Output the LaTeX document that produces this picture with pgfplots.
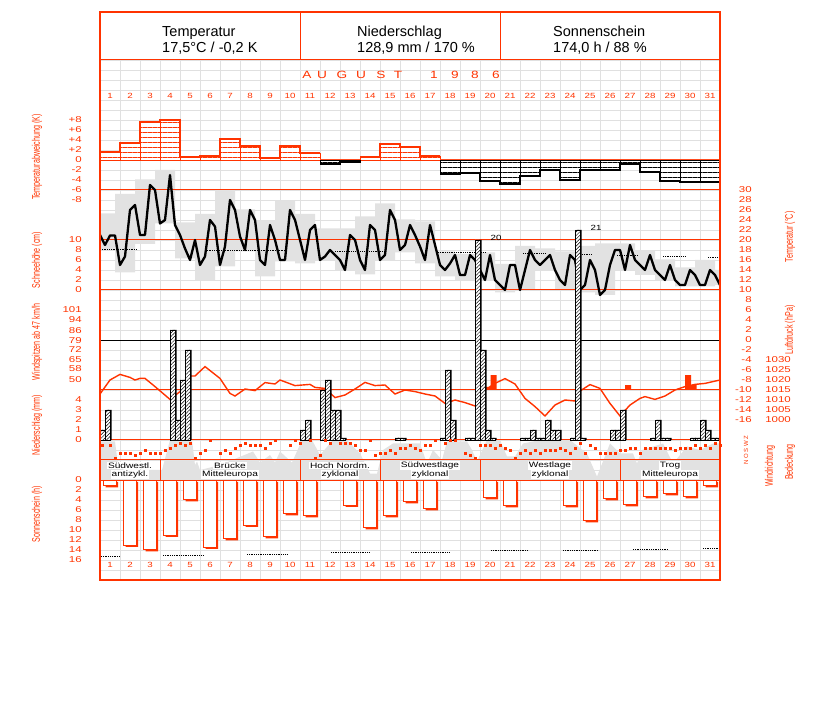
\documentclass[border=0pt]{standalone}
\usepackage{pgfplots}
\usepackage{pgfplotstable}
\pgfplotsset{compat=1.18}
\usetikzlibrary{patterns,patterns.meta}
\usepackage{fontspec}
\setmainfont{Liberation Sans}
\definecolor{rd}{RGB}{255,51,0}
\definecolor{gridc}{RGB}{224,224,224}
\definecolor{cloud}{RGB}{226,226,226}
\newcommand\tf{\fontsize{8.5}{8.5}\selectfont}
\newcommand\df{\fontsize{7.5}{7.5}\selectfont}
\pgfplotsset{
  panel/.style={scale only axis, width=620pt, xmin=0, xmax=31, anchor=south west,
    axis line style={draw=none}, tick style={draw=none}, xtick=\empty, ytick=\empty,
    /pgf/number format/assume math mode=true,
    /pgf/number format/set thousands separator={},
    yticklabel style={font=\tf, text=rd, xscale=1.35}},
  leftlab/.style={yticklabel style={anchor=east, xshift=-10pt}},
}
% daily Tmin-Tmax boxes (box centre in days since 1 Aug 0h)
\pgfplotstableread{
t hi lo
0.25 25.3 18.0
1.25 29.2 13.5
2.25 32.1 19.2
3.25 34.0 23.3
4.25 23.5 16.3
5.25 25.2 12.0
6.25 30.1 14.7
7.25 26.1 17.7
8.25 23.9 12.7
9.25 27.9 15.7
10.25 25.2 15.3
11.25 22.3 15.9
12.25 22.3 14.0
13.25 24.7 13.1
14.25 27.3 16.0
15.25 24.1 17.5
16.25 23.7 15.3
17.25 17.7 12.7
18.25 17.2 12.0
19.25 17.5 12.0
20.25 15.2 9.5
21.25 18.8 10.0
22.25 18.3 14.0
23.25 17.7 10.0
24.25 18.8 9.5
25.25 19.3 9.0
26.25 19.3 14.0
27.25 17.9 13.0
28.25 16.1 12.0
29.25 14.5 10.7
30.25 16.0 10.7
31.25 14.0 11.0
}\boxes
\begin{document}
\begin{tikzpicture}[x=1pt,y=1pt]
\useasboundingbox (0,0) rectangle (827,702);
% ---------- grid
\begin{axis}[panel, at={(100pt,122pt)}, height=520pt, ymin=0, ymax=52,
  xtick={0,...,31}, ytick={0,...,52}, xticklabels={}, yticklabels={},
  grid=major, grid style={gridc, line width=0.9pt}]
\addplot[draw=none] coordinates {(0,0)};
\end{axis}
% ---------- cloud cover (octas)
\begin{axis}[panel, at={(100pt,222pt)}, height=40pt, ymin=0, ymax=8]
\addplot[fill=cloud, draw=none] coordinates {
(0,7.7)(0.75,7.7)(0.9,3)(1.2,2)(3.1,2)(3.5,8)(4.6,8)(4.75,3)(4.85,3.7)(5,2)(6,3)(7.65,5.7)
(8,3.5)(8.5,5)(8.75,3.5)(9,5.7)(9.6,3.5)(10.1,8)(10.6,8)(11,5)(11.65,8)(12.35,8)(13,5.3)
(13.5,1.3)(13.85,1.3)(14.15,6)(14.65,7.3)(16,7.3)(16.35,3.3)(16.65,6)(17.1,4)(17.35,7.7)
(18.35,7.7)(18.6,6)(18.85,3.7)(19.35,8)(20,8)(20.35,4.7)(20.75,4.7)(21.15,7.3)(22,8)(23.5,8)
(24.35,5.3)(24.85,0.7)(25.5,7.3)(26,5.3)(26.65,5.3)(26.85,3.3)(27.1,6)(28.15,7.3)(28.65,3.3)
(29.35,6.7)(30,6)(30.65,7.3)(31,7.3)} \closedcycle;
\end{axis}
% ---------- temperature Tmin-Tmax boxes
\begin{axis}[panel, at={(100pt,282pt)}, height=260pt, ymin=-16, ymax=36, ybar stacked, bar width=1]
\addplot[fill=none, draw=none] table[x=t,y=lo] {\boxes};
\addplot[fill=cloud, draw=none] table[x=t,y expr=\thisrow{hi}-\thisrow{lo}] {\boxes};
\end{axis}
% ---------- separating lines
\foreach \py in {60,160,190,240,290,390,440,460,480}
  \draw[rd, line width=1pt] (100,702-\py) -- (720,702-\py);
\draw[black, line width=0.8pt] (100,362) -- (720,362);
% ---------- temperature anomaly
\begin{axis}[panel, leftlab, at={(100pt,502pt)}, height=80pt, ymin=-8, ymax=8,
  ytick={-8,-6,-4,-2,0,2,4,6,8}, yticklabels={-8,-6,-4,-2,0,+2,+4,+6,+8}]
\addplot[ybar, bar width=1, fill=white, draw=rd, line width=0.5pt,
  postaction={pattern={Lines[angle=0,distance=5pt,line width=0.6pt]}, pattern color=rd}]
  coordinates {(0.5,1.5)(1.5,3.3)(2.5,7.5)(3.5,7.9)(4.5,0.5)(5.5,0.7)(6.5,4.2)(7.5,2.7)
  (8.5,0.3)(9.5,2.7)(10.5,1.3)(13.5,0.5)(14.5,3.1)(15.5,2.5)(16.5,0.8)};
\addplot[ybar, bar width=1, fill=white, draw=black, line width=0.5pt,
  postaction={pattern={Lines[angle=0,distance=5pt,line width=0.6pt]}, pattern color=black}]
  coordinates {(11.5,-0.9)(12.5,-0.5)(17.5,-2.8)(18.5,-2.7)(19.5,-4.2)(20.5,-4.9)(21.5,-3.2)
  (22.5,-2.1)(23.5,-4.0)(24.5,-2.1)(25.5,-2.1)(26.5,-0.9)(27.5,-2.5)(28.5,-4.3)(29.5,-4.5)(30.5,-4.4)};
\addplot[const plot mark mid, rd, line width=2pt] coordinates {(0,1.5)(0.5,1.5)(1.5,3.3)(2.5,7.5)
  (3.5,7.9)(4.5,0.5)(5.5,0.7)(6.5,4.2)(7.5,2.7)(8.5,0.3)(9.5,2.7)(10.5,1.3)(11,1.3)};
\addplot[const plot mark mid, black, line width=2pt] coordinates {(11,-0.9)(11.5,-0.9)(12.5,-0.5)(13,-0.5)};
\addplot[const plot mark mid, rd, line width=2pt] coordinates {(13,0.5)(13.5,0.5)(14.5,3.1)(15.5,2.5)(16.5,0.8)(17,0.8)};
\addplot[const plot mark mid, black, line width=2pt] coordinates {(17,-2.8)(17.5,-2.8)(18.5,-2.7)
  (19.5,-4.2)(20.5,-4.9)(21.5,-3.2)(22.5,-2.1)(23.5,-4.0)(24.5,-2.1)(25.5,-2.1)(26.5,-0.9)
  (27.5,-2.5)(28.5,-4.3)(29.5,-4.5)(30.5,-4.4)(31,-4.4)};
\end{axis}
% ---------- snow depth scale
\begin{axis}[panel, leftlab, at={(100pt,412pt)}, height=50pt, ymin=0, ymax=10, ytick={0,2,...,10}]
\addplot[draw=none] coordinates {(0,0)};
\end{axis}
% ---------- temperature curve
\begin{axis}[panel, at={(100pt,282pt)}, height=260pt, ymin=-16, ymax=36,
  ytick={-16,-14,...,30}, ytick pos=right, yticklabel pos=right,
  yticklabel style={anchor=east, xshift=27pt}]
\addplot[black, densely dotted, line width=0.8pt, unbounded coords=jump] coordinates {
(0,18.1)(1.85,18.1)(2,nan)(5.25,17.9)(9.25,17.9)(9.5,nan)(11.75,17.7)(14.25,17.7)(14.5,nan)
(16.9,17.6)(19.25,17.6)(19.5,nan)(21.15,17.4)(22.3,17.4)(22.5,nan)(24.1,17.2)(24.6,17.2)(24.8,nan)
(25.85,16.9)(26.85,16.9)(27,nan)(28.15,16.7)(29.3,16.7)(29.5,nan)(30.4,16.5)(31,16.5)};
\addplot[black, line width=2.3pt, line join=round] coordinates {
(0,21.0)(0.25,19.0)(0.5,20.9)(0.75,20.9)(1,15.0)(1.25,16.7)(1.5,26.0)(1.75,27.0)
(2,21.0)(2.25,21.0)(2.5,31.0)(2.75,30.0)(3,23.3)(3.25,24.0)(3.5,33.0)(3.75,23.0)
(4,21.0)(4.25,18.3)(4.5,16.0)(4.75,20.0)(5,15.0)(5.25,16.7)(5.5,24.0)(5.75,22.7)
(6,15.0)(6.25,18.7)(6.5,28.0)(6.75,26.0)(7,20.7)(7.25,18.0)(7.5,26.0)(7.75,24.0)
(8,16.0)(8.25,15.0)(8.5,23.0)(8.75,20.0)(9,16.0)(9.25,16.0)(9.5,26.0)(9.75,24.0)
(10,20.0)(10.25,16.0)(10.5,22.0)(10.75,23.0)(11,16.0)(11.25,16.7)(11.5,18.0)(11.75,17.0)
(12,16.0)(12.25,14.0)(12.5,21.0)(12.75,20.0)(13,16.0)(13.25,14.0)(13.5,23.0)(13.75,22.0)
(14,16.0)(14.25,17.0)(14.5,26.0)(14.75,24.0)(15,18.0)(15.25,19.0)(15.5,23.0)(15.75,21.0)
(16,18.7)(16.25,16.0)(16.5,23.0)(16.75,19.0)(17,15.0)(17.25,14.0)(17.5,15.3)(17.75,17.0)
(18,13.0)(18.25,13.0)(18.5,17.0)(18.75,16.0)(19,14.0)(19.25,12.0)(19.5,17.0)(19.75,12.0)
(20,11.0)(20.25,10.0)(20.5,15.0)(20.75,15.0)(21,10.0)(21.25,14.0)(21.5,18.0)(21.75,16.0)
(22,15.0)(22.25,16.0)(22.5,17.0)(22.75,14.0)(23,12.0)(23.25,11.0)(23.5,17.0)(23.75,16.0)
(24,10.0)(24.25,11.0)(24.5,16.0)(24.75,14.0)(25,9.0)(25.25,10.0)(25.5,15.0)(25.75,18.0)
(26,18.0)(26.25,14.0)(26.5,19.0)(26.75,16.0)(27,15.0)(27.25,14.0)(27.5,17.0)(27.75,14.0)
(28,13.0)(28.25,12.0)(28.5,15.0)(28.75,12.0)(29,11.0)(29.25,11.0)(29.5,14.0)(29.75,13.0)
(30,11.0)(30.25,11.0)(30.5,14.0)(30.75,13.0)(31,11.0)};
\end{axis}
% ---------- air pressure
\begin{axis}[panel, at={(100pt,282pt)}, height=60pt, ymin=1000, ymax=1030,
  ytick={1000,1005,...,1030}, ytick pos=right, yticklabel pos=right,
  yticklabel style={anchor=east, xshift=56pt}, clip=false]
\addplot[rd, line width=1.4pt] coordinates {
(0,1013)(0.5,1020)(1,1022.8)(1.5,1021.3)(1.75,1020)(2,1020.8)(2.25,1020.8)(2.75,1016.7)
(3.5,1010.3)(4,1014.2)(4.5,1022)(4.75,1022)(5.25,1026.7)(6,1020.8)(6.5,1013.3)(6.75,1012)
(7.25,1015.5)(7.75,1014.7)(8.25,1018.7)(8.75,1018)(9,1020)(9.75,1017.2)(10.5,1017.8)
(10.75,1016.3)(11.25,1015.8)(11.75,1011.2)(12.25,1012.5)(12.75,1015.5)(13.25,1018.8)
(13.75,1017.2)(14.25,1017.5)(14.75,1013)(15.25,1015)(15.75,1014.2)(16.25,1013)(16.75,1012)
(17.25,1008.3)(17.75,1010)(18.25,1008.7)(18.75,1007)(19.25,1015)(19.75,1018.3)(20.25,1020.7)
(20.75,1018)(21.25,1010.8)(21.75,1006.7)(22.25,1002)(22.75,1007.5)(23.25,1010)(23.75,1009.5)
(24,1014.5)(24.5,1017.7)(25,1015.8)(25.5,1008.3)(26,1002)(26.5,1007.5)(27,1010.8)
(27.25,1011.7)(27.75,1010.3)(28.25,1012)(28.75,1015)(29.25,1016.7)(29.75,1017.8)(30.25,1018.3)(31,1020)};
\end{axis}
% ---------- wind gusts
\begin{axis}[panel, leftlab, at={(100pt,312pt)}, height=80pt, ymin=42.7, ymax=101,
  ytick={50,58,65,72,79,86,94,101}]
\addplot[ybar, bar width=0.3, fill=rd, draw=none] coordinates {
(19.375,45)(19.675,53.6)(26.4,46.3)(29.4,53.6)(29.675,46.3)};
\end{axis}
% ---------- precipitation
\begin{axis}[panel, leftlab, at={(100pt,262pt)}, height=220pt, ymin=0, ymax=22, ytick={0,1,2,3,4}]
\addplot[ybar, bar width=0.25, bar shift=1.6pt, fill=black, draw=none] coordinates {
(0.125,1)(0.375,3)(3.625,11)(3.875,2)(4.125,6)(4.375,9)(10.125,1)(10.375,2)(11.125,5)(11.375,6)
(11.625,3)(11.875,3)(12.125,0.2)(14.875,0.2)(15.125,0.2)(17.125,0.2)(17.375,7)(17.625,2)
(18.375,0.2)(18.625,0.2)(18.875,20)(19.125,9)(19.375,1)(19.625,0.2)(21.125,0.2)(21.375,0.2)
(21.625,1)(21.875,0.2)(22.125,0.2)(22.375,2)(22.625,1)(22.875,1)(23.625,0.2)(23.875,21)
(24.125,0.2)(25.625,1)(25.875,1)(26.125,3)(27.625,0.2)(27.875,2)(28.125,0.2)(28.375,0.2)
(29.625,0.2)(29.875,0.2)(30.125,2)(30.375,1)(30.625,0.2)(30.875,0.2)};
\addplot[ybar, bar width=0.25, fill=white, draw=black, line width=0.4pt,
  postaction={pattern={Lines[angle=45,distance=2.5pt,line width=0.5pt]}, pattern color=black}] coordinates {
(0.125,1)(0.375,3)(3.625,11)(3.875,2)(4.125,6)(4.375,9)(10.125,1)(10.375,2)(11.125,5)(11.375,6)
(11.625,3)(11.875,3)(12.125,0.2)(14.875,0.2)(15.125,0.2)(17.125,0.2)(17.375,7)(17.625,2)
(18.375,0.2)(18.625,0.2)(18.875,20)(19.125,9)(19.375,1)(19.625,0.2)(21.125,0.2)(21.375,0.2)
(21.625,1)(21.875,0.2)(22.125,0.2)(22.375,2)(22.625,1)(22.875,1)(23.625,0.2)(23.875,21)
(24.125,0.2)(25.625,1)(25.875,1)(26.125,3)(27.625,0.2)(27.875,2)(28.125,0.2)(28.375,0.2)
(29.625,0.2)(29.875,0.2)(30.125,2)(30.375,1)(30.625,0.2)(30.875,0.2)};
\node[font=\df, anchor=west, xscale=1.3] at (axis cs:19.3,20.2) {20};
\node[font=\df, anchor=west, xscale=1.3] at (axis cs:24.3,21.2) {21};
\end{axis}
% ---------- wind direction (degrees)
\begin{axis}[panel, at={(100pt,242pt)}, height=20pt, ymin=-36, ymax=324, clip=false]
\addplot[only marks, mark=square*, mark size=1pt, rd] coordinates {
(0.1,225)(0.5,225)(0.74,0)(1,90)(1.26,90)(1.5,90)(1.76,45)(2,90)(2.26,135)(2.5,90)(2.76,90)
(3,90)(3.26,135)(3.5,180)(3.76,225)(4,270)(4.26,225)(4.5,270)(4.76,0)(5,90)(5.26,135)(5.5,315)
(6,90)(6.26,135)(6.5,90)(6.76,180)(7,225)(7.26,270)(7.5,225)(7.76,225)(8,225)(8.26,180)
(8.5,270)(8.76,315)(9.5,225)(9.76,315)(10,270)(10.5,315)(10.76,0)(11,45)(11.26,315)(11.5,270)
(12,270)(12.26,270)(12.5,270)(12.76,225)(13,135)(13.26,135)(13.5,315)(13.76,45)(14,90)
(14.26,90)(14.5,135)(14.76,90)(15,180)(15.26,180)(15.5,225)(15.76,180)(16,135)(16.26,225)
(16.5,225)(16.76,315)(17.26,270)(17.5,315)(17.76,315)(18.26,90)(18.5,45)(18.76,0)(19,225)
(19.26,225)(19.5,225)(19.76,180)(20,225)(20.26,180)(20.5,135)(20.76,0)(21,90)(21.26,135)
(21.5,90)(21.76,135)(22,90)(22.26,135)(22.5,135)(22.76,135)(23,180)(23.26,135)(23.5,90)
(23.76,180)(24,270)(24.26,90)(24.5,225)(24.76,180)(25,90)(25.26,90)(25.5,90)(25.76,90)
(26,135)(26.26,135)(26.5,180)(26.76,180)(27,90)(27.26,180)(27.5,180)(27.76,180)(28,180)
(28.26,180)(28.5,180)(28.76,135)(29,180)(29.26,180)(29.5,180)(29.76,225)(30,180)(30.26,225)
(30.5,180)(30.76,270)(31,225)};
\end{axis}
% ---------- weather types
\foreach \px in {160,300,380,480,620} \draw[rd, line width=1pt] (\px,702-460) -- (\px,702-480);
\begin{scope}[every node/.style={font=\fontsize{7.8}{8}\selectfont, xscale=1.3, inner sep=0.8pt, fill=white}]
\node at (130,702-465.5) {Südwestl.}; \node at (130,702-474.5) {antizykl.};
\node at (230,702-465.5) {Brücke}; \node at (230,702-474.5) {Mitteleuropa};
\node at (340,702-465.5) {Hoch Nordm.}; \node at (340,702-474.5) {zyklonal};
\node at (430,702-465.5) {Südwestlage}; \node at (430,702-474.5) {zyklonal};
\node at (550,702-465.5) {Westlage}; \node at (550,702-474.5) {zyklonal};
\node at (670,702-465.5) {Trog}; \node at (670,702-474.5) {Mitteleuropa};
\end{scope}
% ---------- sunshine
\begin{axis}[panel, leftlab, at={(100pt,142pt)}, height=80pt, ymin=0, ymax=16, y dir=reverse,
  ytick={0,2,...,16}]
\addplot[black, densely dotted, line width=0.8pt, unbounded coords=jump] coordinates {
(0.05,15.3)(1,15.3)(1.5,nan)(3.15,15)(5.2,15)(5.5,nan)(7.35,14.8)(9.4,14.8)(9.5,nan)
(11.55,14.5)(13.5,14.5)(13.7,nan)(15.55,14.4)(17.5,14.4)(17.7,nan)(19.55,14.1)(21.4,14.1)(21.6,nan)
(23.15,14)(24.9,14)(25.2,nan)(26.65,13.8)(28.4,13.8)(28.6,nan)(30.15,13.7)(31,13.7)};
\addplot[ybar, bar width=0.62, bar shift=1.8pt, yshift=-1.8pt, fill=rd, draw=none] coordinates {
(0.5,1.1)(1.5,13)(2.5,13.9)(3.5,11)(4.5,3.9)(5.5,13.4)(6.5,11.7)(7.5,9)(8.5,11.3)(9.5,6.7)
(10.5,7.1)(12.5,5)(13.5,9.5)(14.5,7.1)(15.5,4.3)(16.5,5.7)(19.5,3.5)(20.5,5.1)(23.5,5.1)
(24.5,8.1)(25.5,3.7)(26.5,4.9)(27.5,3.3)(28.5,2.7)(29.5,3.3)(30.5,1.1)};
\addplot[ybar, bar width=0.62, fill=white, draw=rd, line width=1pt] coordinates {
(0.5,1.1)(1.5,13)(2.5,13.9)(3.5,11)(4.5,3.9)(5.5,13.4)(6.5,11.7)(7.5,9)(8.5,11.3)(9.5,6.7)
(10.5,7.1)(12.5,5)(13.5,9.5)(14.5,7.1)(15.5,4.3)(16.5,5.7)(19.5,3.5)(20.5,5.1)(23.5,5.1)
(24.5,8.1)(25.5,3.7)(26.5,4.9)(27.5,3.3)(28.5,2.7)(29.5,3.3)(30.5,1.1)};
\end{axis}
% ---------- frame and header
\draw[rd, line width=1.2pt] (100,702-12) rectangle (720,702-580);
\draw[rd, line width=1pt] (300,702-12) -- (300,702-60) (500,702-12) -- (500,702-60);
\begin{scope}[every node/.style={font=\fontsize{14.5}{15}\selectfont, anchor=base west, inner sep=0pt}]
\node at (162,702-37) {Temperatur}; \node at (162,702-53) {17,5°C / -0,2 K};
\node at (357,702-37) {Niederschlag}; \node at (357,702-53) {128,9 mm / 170 \%};
\node at (553,702-37) {Sonnenschein}; \node at (553,702-53) {174,0 h / 88 \%};
\end{scope}
\foreach \c/\x in {A/307,U/322,G/342,U/361,S/381,T/398,1/434,9/455,8/475,6/496}
  \node[font=\fontsize{10.5}{10.5}\selectfont, text=rd, xscale=1.3] at (\x,702-75.3) {\c};
\foreach \d in {1,...,31} {
  \node[font=\df, text=rd, xscale=1.3] at (90+20*\d,702-95.5) {\d};
  \node[font=\df, text=rd, xscale=1.3] at (90+20*\d,702-565) {\d};
}
% ---------- axis titles
\begin{scope}[every node/.style={text=rd, rotate=90, font=\fontsize{11}{11}\selectfont}]
\node at (37,702-157) {\scalebox{0.65}[1]{Temperaturabweichung (K)}};
\node at (37,702-260) {\scalebox{0.65}[1]{Schneehöhe (cm)}};
\node at (37,702-342) {\scalebox{0.65}[1]{Windspitzen ab 47 km/h}};
\node at (37,702-425) {\scalebox{0.65}[1]{Niederschlag (mm)}};
\node at (37,702-514) {\scalebox{0.65}[1]{Sonnenschein (h)}};
\node at (790,702-237) {\scalebox{0.65}[1]{Temperatur (°C)}};
\node at (790,702-330) {\scalebox{0.65}[1]{Luftdruck (hPa)}};
\node at (770,702-466) {\scalebox{0.65}[1]{Windrichtung}};
\node at (790,702-462) {\scalebox{0.65}[1]{Bedeckung}};
\node[font=\fontsize{6}{6}\selectfont] at (746,702-450) {N O S W Z};
\end{scope}
\end{tikzpicture}
\end{document}
